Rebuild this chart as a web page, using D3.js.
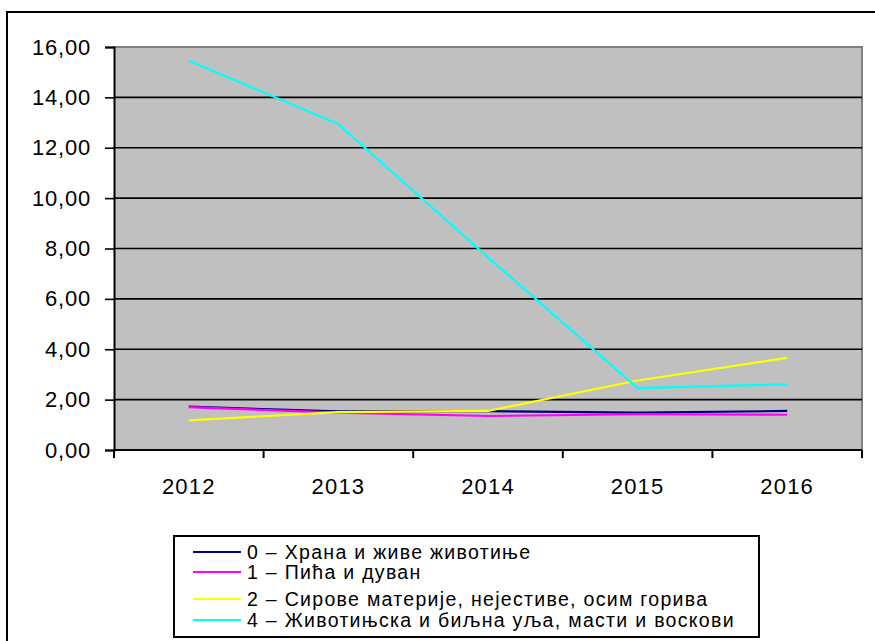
<!DOCTYPE html>
<html><head><meta charset="utf-8">
<script src="https://cdn.jsdelivr.net/npm/d3@7"></script>
<style>
html,body{margin:0;padding:0;background:#fff;}
svg{display:block;font-family:"Liberation Sans",Arial,sans-serif;}
</style></head>
<body><svg id="c" width="875" height="641"></svg>
<script>
const years = ["2012","2013","2014","2015","2016"];
const seriesNames = [
  "0 – Храна и живе животиње",
  "1 – Пића и дуван",
  "2 – Сирове материје, нејестиве, осим горива",
  "4 – Животињска и биљна уља, масти и воскови"
];
const food    = [1.72, 1.53, 1.54, 1.48, 1.55];
const drinks  = [1.70, 1.48, 1.35, 1.42, 1.40];
const raw     = [1.18, 1.50, 1.55, 2.76, 3.66];
const oils    = [15.45, 12.94, 7.65, 2.46, 2.61];
const colors  = ["#000080", "#FF00FF", "#FFFF00", "#00FFFF"];
const yTicks  = [0, 2, 4, 6, 8, 10, 12, 14, 16];

const allSeries = [food, drinks, raw, oils];
const svg = d3.select("#c");

// outer frame
svg.append("rect").attr("x", 7).attr("y", 12).attr("width", 900).attr("height", 700)
  .attr("fill", "#fff").attr("stroke", "#000").attr("stroke-width", 2);

const L = 114, R = 862, T = 47, B = 450;
const x = d3.scaleBand().domain(years).range([L, R]).padding(0);
const y = d3.scaleLinear().domain([0, 16]).range([B, T]);
const fmt = d3.formatLocale({decimal: ",", thousands: ".", grouping: [3], currency: ["", ""]}).format(".2f");

// plot background
svg.append("rect").attr("x", L).attr("y", T).attr("width", R - L).attr("height", B - T)
  .attr("fill", "#C0C0C0");
// top & right gray border
svg.append("path").attr("d", `M${L},${T}H${R}V${B}`).attr("fill", "none")
  .attr("stroke", "#808080").attr("stroke-width", 2);

// gridlines
svg.append("g").selectAll("line").data(yTicks.filter(d => d > 0 && d < 16)).join("line")
  .attr("x1", L).attr("x2", R).attr("y1", d => y(d)).attr("y2", d => y(d))
  .attr("stroke", "#000").attr("stroke-width", 1.6);

// y axis
const yAxis = svg.append("g").attr("transform", `translate(${L},0)`)
  .call(d3.axisLeft(y).tickValues(yTicks).tickFormat(fmt).tickSize(9).tickPadding(14));
yAxis.select(".domain").attr("stroke-width", 2);
yAxis.selectAll(".tick line").attr("stroke-width", 1.6);
yAxis.selectAll("text").attr("font-size", 22).attr("fill", "#000").attr("letter-spacing", 0.8)
  .attr("font-family", "Liberation Sans, Arial, sans-serif");

// x axis
const edges = years.map(d => x(d)).concat([x(years[years.length - 1]) + x.bandwidth()]);
svg.append("line").attr("x1", L).attr("x2", R).attr("y1", B).attr("y2", B)
  .attr("stroke", "#000").attr("stroke-width", 2);
svg.append("g").selectAll("line").data(edges).join("line")
  .attr("x1", d => d).attr("x2", d => d).attr("y1", B).attr("y2", B + 8)
  .attr("stroke", "#000").attr("stroke-width", 2);
svg.append("g").selectAll("text").data(years).join("text")
  .attr("x", d => x(d) + x.bandwidth() / 2).attr("y", 494)
  .attr("text-anchor", "middle").attr("font-size", 22).attr("letter-spacing", 1.2)
  .text(d => d);

// lines
const line = d3.line().x((d, i) => x(years[i]) + x.bandwidth() / 2).y(d => y(d));
svg.append("g").selectAll("path").data(allSeries).join("path")
  .attr("d", d => line(d)).attr("fill", "none")
  .attr("stroke", (d, i) => colors[i]).attr("stroke-width", 2.2);

// legend
svg.append("rect").attr("x", 174).attr("y", 536).attr("width", 585).attr("height", 101)
  .attr("fill", "#fff").attr("stroke", "#000").attr("stroke-width", 2);
const rowsY = [552, 572, 599, 620];
const lg = svg.append("g").selectAll("g").data(seriesNames).join("g")
  .attr("transform", (d, i) => `translate(0,${rowsY[i]})`);
lg.append("line").attr("x1", 193).attr("x2", 241).attr("y1", 0).attr("y2", 0)
  .attr("stroke", (d, i) => colors[i]).attr("stroke-width", 2);
lg.append("text").attr("x", 247).attr("y", 7).attr("font-size", 19.5).attr("letter-spacing", 1.3)
  .text(d => d);
</script></body></html>
